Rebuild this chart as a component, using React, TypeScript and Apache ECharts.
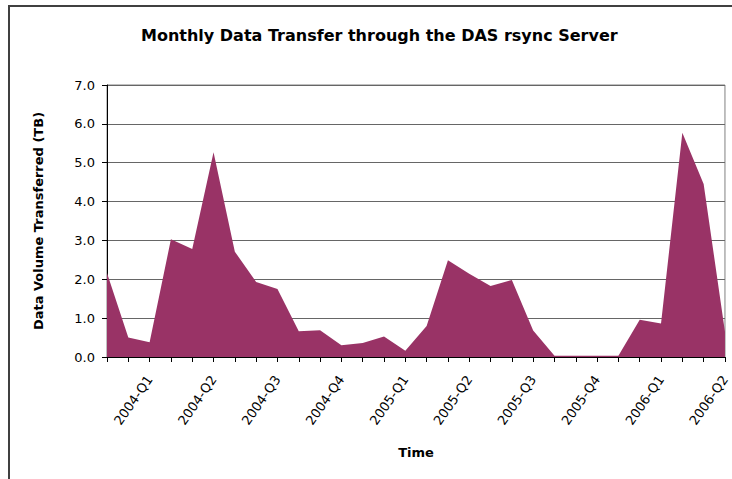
import React, { useEffect, useRef } from "react";
import * as echarts from "echarts";

const months: string[] = [
  "2004-01", "2004-02", "2004-03", "2004-04", "2004-05", "2004-06",
  "2004-07", "2004-08", "2004-09", "2004-10", "2004-11", "2004-12",
  "2005-01", "2005-02", "2005-03", "2005-04", "2005-05", "2005-06",
  "2005-07", "2005-08", "2005-09", "2005-10", "2005-11", "2005-12",
  "2006-01", "2006-02", "2006-03", "2006-04", "2006-05", "2006-06",
];

const volumeTB: number[] = [
  2.16, 0.5, 0.38, 3.03, 2.78, 5.27, 2.71, 1.93, 1.75, 0.66,
  0.69, 0.3, 0.36, 0.53, 0.16, 0.8, 2.49, 2.14, 1.83, 1.98,
  0.68, 0.03, 0.03, 0.03, 0.03, 0.96, 0.86, 5.77, 4.45, 0.65,
];

const quarterLabels: string[] = [
  "2004-Q1", "2004-Q2", "2004-Q3", "2004-Q4",
  "2005-Q1", "2005-Q2", "2005-Q3", "2005-Q4",
  "2006-Q1", "2006-Q2",
];

const FONT = "'DejaVu Sans', 'Liberation Sans', Arial, sans-serif";

export default function App() {
  const ref = useRef<HTMLDivElement>(null);
  useEffect(() => {
    document.body.style.margin = "0";
    if (!ref.current) return;
    const chart = echarts.init(ref.current, null, { renderer: "svg" });
    chart.setOption({
      animation: false,
      backgroundColor: "#ffffff",
      textStyle: { fontFamily: FONT },
      title: {
        text: "Monthly Data Transfer through the DAS rsync Server",
        left: 136,
        top: 22,
        textStyle: { fontFamily: FONT, fontSize: 16, fontWeight: "bold", color: "#000" },
      },
      graphic: [
        {
          type: "rect",
          shape: { x: 9, y: 6, width: 1000, height: 1000 },
          style: { fill: "none", stroke: "#404040", lineWidth: 2 },
          silent: true,
        },
      ],
      grid: {
        left: 107,
        right: 5,
        top: 85,
        bottom: 122,
        show: true,
        borderColor: "#808080",
        borderWidth: 1,
        backgroundColor: "transparent",
      },
      xAxis: {
        type: "category",
        data: months,
        boundaryGap: false,
        name: "Time",
        nameLocation: "middle",
        nameGap: 89,
        nameTextStyle: { fontFamily: FONT, fontSize: 13, fontWeight: "bold", color: "#000" },
        axisLine: { lineStyle: { color: "#000", width: 1 } },
        axisTick: { show: true, interval: 0, length: 5, lineStyle: { color: "#000" } },
        axisLabel: {
          interval: 0,
          rotate: 55,
          margin: 20,
          fontSize: 13,
          color: "#000",
          fontFamily: FONT,
          formatter: (_v: string, i: number) => (i % 3 === 2 ? quarterLabels[(i - 2) / 3] : ""),
        },
        splitLine: { show: false },
      },
      yAxis: {
        type: "value",
        min: 0,
        max: 7,
        interval: 1,
        name: "Data Volume Transferred (TB)",
        nameLocation: "middle",
        nameGap: 62,
        nameTextStyle: { fontFamily: FONT, fontSize: 13, fontWeight: "bold", color: "#000" },
        axisLine: { show: true, lineStyle: { color: "#000", width: 1 } },
        axisTick: { show: true, length: 5, lineStyle: { color: "#000" } },
        axisLabel: {
          margin: 12,
          fontSize: 13,
          color: "#000",
          fontFamily: FONT,
          formatter: (v: number) => v.toFixed(1),
        },
        splitLine: { show: true, lineStyle: { color: "#666666", width: 1 } },
      },
      series: [
        {
          type: "line",
          data: volumeTB,
          symbol: "none",
          lineStyle: { width: 0 },
          areaStyle: { color: "#993366", opacity: 1 },
          z: 1,
        },
      ],
    });
    return () => chart.dispose();
  }, []);
  return <div ref={ref} style={{ width: 732, height: 479 }} />;
}
